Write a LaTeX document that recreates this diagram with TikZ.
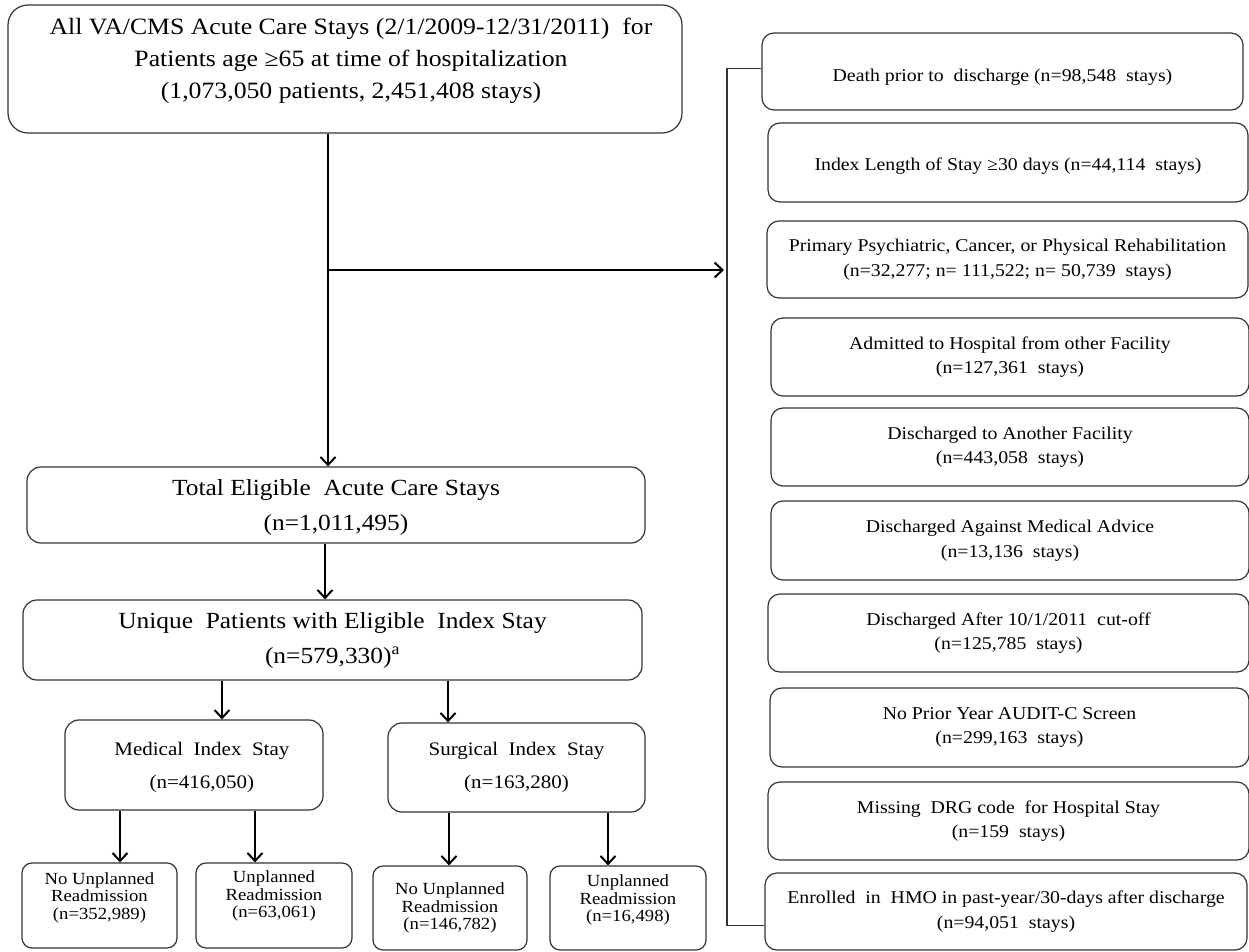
\documentclass[tikz,border=0pt]{standalone}
\usepackage{fontspec}
\setmainfont{Liberation Serif}[FakeStretch=1.1]
\usetikzlibrary{calc, arrows.meta, positioning}

\begin{document}
\begin{tikzpicture}[x=1pt, y=-1pt,
        box/.style={draw=black!80, line width=1.2pt, rounded corners=14pt, align=center, inner sep=2pt},
        side/.style={box, minimum width=480pt, minimum height=78pt, rounded corners=12pt, font=\fontsize{18}{24.5}\selectfont},
        small/.style={box, minimum width=155pt, minimum height=85pt, rounded corners=10pt, font=\fontsize{17}{17.5}\selectfont},
        arr/.style={-{Straight Barb[length=8pt, width=15pt]}, line width=2pt},
        link/.style={draw=black!80, line width=1.2pt}]
        \useasboundingbox (0,0) rectangle (1249,952);

        % main column
        \node[box, minimum width=674pt, minimum height=128pt, rounded corners=20pt] (all) at (345,69) {};
        \node[align=center, font=\fontsize{23.4}{32}\selectfont] (alltext) at (351,60.5)
            {All VA/CMS Acute Care Stays (2/1/2009-12/31/2011)\ \ for\\
             Patients age ≥65 at time of hospitalization\\
             (1,073,050 patients, 2,451,408 stays)};
        \node[box, minimum width=618pt, minimum height=76pt, font=\fontsize{23.1}{35}\selectfont] (total) at (336,505)
            {\rule{0pt}{20pt}Total Eligible\ \ Acute Care Stays\\(n=1,011,495)};
        \node[box, minimum width=619pt, minimum height=80pt, font=\fontsize{23.1}{35}\selectfont] (unique) at (332.5,640)
            {Unique\ \ Patients with Eligible\ \ Index Stay\\(n=579,330)\textsuperscript{a}};

        \node[box, minimum width=258pt, minimum height=90pt, font=\fontsize{19.1}{33}\selectfont] (medical) at (194,765)
            {\rule{0pt}{19pt}\ \ \ Medical\ \ Index\ \ Stay\\\ \ \ (n=416,050)};
        \node[box, minimum width=257pt, minimum height=89pt, font=\fontsize{19.1}{33}\selectfont] (surgical) at (516.5,767.5)
            {Surgical\ \ Index\ \ Stay\\(n=163,280)};

        \node[small] (nomed) at (99.5,905.5) {No Unplanned\\Readmission\\(n=352,989)\\[2pt]};
        \node[small, minimum width=156pt] (unmed) at (274,905.5) {Unplanned\\Readmission\\(n=63,061)\\[5pt]};
        \node[small, minimum width=154pt, minimum height=84pt] (nosurg) at (450,908) {No Unplanned\\Readmission\\(n=146,782)};
        \node[small, minimum width=156pt, minimum height=84pt] (unsurg) at (628,908) {Unplanned\\Readmission\\(n=16,498)\\[2pt]};

        % exclusions
        \node[side, minimum width=481pt, minimum height=77pt] (death) at (1002.5,71.5) {\rule{0pt}{23pt}Death prior\ to\ \ discharge (n=98,548\ \ stays)};
        \node[side, minimum height=79pt] (los) at (1008,162.5) {\rule{0pt}{19pt}Index Length of Stay ≥30 days (n=44,114\ \ stays)};
        \node[side, minimum width=481pt, minimum height=77pt] (psych) at (1007.5,259.5)
            {Primary Psychiatric, Cancer, or Physical Rehabilitation\\(n=32,277;\ n= 111,522;\ n= 50,739\ \ stays)};
        \node[side, minimum width=478pt] (admit) at (1010,357) {Admitted to Hospital from other Facility\\(n=127,361\ \ stays)};
        \node[side, minimum width=478pt] (transfer) at (1010,447) {Discharged to Another Facility\\(n=443,058\ \ stays)};
        \node[side, minimum width=478pt, minimum height=79pt] (ama) at (1010,540.5) {Discharged Against Medical Advice\\(n=13,136\ \ stays)};
        \node[side, minimum width=481pt] (cutoff) at (1008.5,633) {Discharged After 10/1/2011\ \ cut-off\\(n=125,785\ \ stays)};
        \node[side, minimum width=479pt, minimum height=79pt] (audit) at (1009.5,727.5) {No Prior Year AUDIT-C Screen\\(n=299,163\ \ stays)};
        \node[side, minimum width=481pt] (drg) at (1008.5,821) {Missing\ \ DRG code\ \ for Hospital Stay\\(n=159\ \ stays)};
        \node[side, minimum width=482pt, minimum height=77pt] (hmo) at (1006,911.5) {Enrolled\ \ in\ \ HMO in past-year/30-days after discharge\\(n=94,051\ \ stays)};

        \coordinate (trunk) at (328,270);
        \coordinate (brk) at (727,0);

        % bracket round the exclusions
        \draw[link] ($(death.west)+(0,-3)$) -- ($(death.west -| brk)+(0,-3)$) |- ($(hmo.west)+(0,14)$);

        % arrows
        \draw[arr] (all.south -| trunk) -- (total.north -| trunk);
        \draw[arr] (trunk) -- ($(trunk -| brk)+(-3,0)$);
        \foreach \src/\dst/\xpos in {total/unique/325, unique/medical/222, unique/surgical/448,
                medical/nomed/120, medical/unmed/255, surgical/nosurg/449, surgical/unsurg/608}
            \draw[arr] (\xpos,0 |- \src.south) -- (\xpos,0 |- \dst.north);
    \end{tikzpicture}
\end{document}
